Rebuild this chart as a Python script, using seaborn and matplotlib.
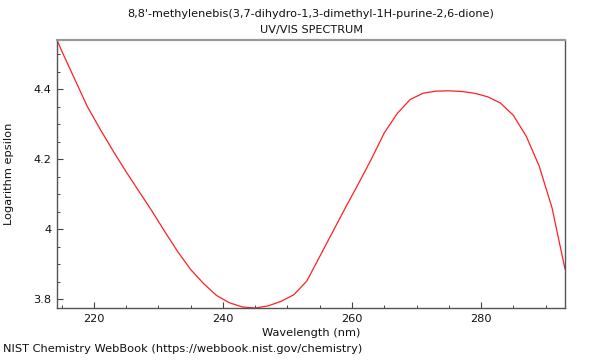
import numpy as np
import pandas as pd
import matplotlib
matplotlib.use('Agg')
import matplotlib.pyplot as plt
import seaborn as sns
from matplotlib.ticker import MultipleLocator, FormatStrFormatter

# --- data ---
wavelength = [214.3, 215, 217, 219, 221, 223, 225, 227, 229, 231, 233, 235, 237,
              239, 241, 243, 245, 247, 249, 251, 253, 255, 257, 259, 261, 263,
              265, 267, 269, 271, 273, 275, 277, 279, 281, 283, 285, 287, 289,
              291, 293]
log_eps = [4.54, 4.51, 4.43, 4.35, 4.285, 4.223, 4.164, 4.108, 4.052, 3.993,
           3.936, 3.885, 3.845, 3.811, 3.790, 3.778, 3.775, 3.781, 3.794, 3.813,
           3.852, 3.922, 3.992, 4.062, 4.130, 4.200, 4.275, 4.330, 4.370, 4.388,
           4.394, 4.395, 4.393, 4.388, 4.378, 4.360, 4.325, 4.265, 4.180, 4.060,
           3.886]

title_lines = ["8,8'-methylenebis(3,7-dihydro-1,3-dimethyl-1H-purine-2,6-dione)",
               "UV/VIS SPECTRUM"]
footer = "NIST Chemistry WebBook (https://webbook.nist.gov/chemistry)"

df = pd.DataFrame({'wavelength': wavelength, 'log_eps': log_eps})

sns.set_style('white')
plt.rcParams['font.family'] = ['DejaVu Sans']
plt.rcParams['text.color'] = '#111111'
plt.rcParams['axes.labelcolor'] = '#111111'
plt.rcParams['xtick.labelcolor'] = '#111111'
plt.rcParams['ytick.labelcolor'] = '#111111'

fig = plt.figure(figsize=(6, 3.6), dpi=100)
ax = fig.add_axes([0.095, 0.1444, 0.8467, 0.7445])

sns.lineplot(data=df, x='wavelength', y='log_eps', color='#ff2020', lw=0.9,
             ax=ax, estimator=None, sort=False)

ax.set_xlim(df['wavelength'].min(), df['wavelength'].max())
ax.set_ylim(df['log_eps'].min(), df['log_eps'].max())

ax.xaxis.set_major_locator(MultipleLocator(20))
ax.xaxis.set_minor_locator(MultipleLocator(5))
ax.yaxis.set_major_locator(MultipleLocator(0.2))
ax.yaxis.set_minor_locator(MultipleLocator(0.05))
ax.yaxis.set_major_formatter(FormatStrFormatter('%g'))

ax.tick_params(which='both', bottom=True, left=True, top=False, right=False)
ax.tick_params(which='major', direction='in', length=4, width=0.8,
               color='#444444', labelsize=8.2, pad=4)
ax.tick_params(which='minor', direction='in', length=2.5, width=0.7,
               color='#444444')

for s in ['left', 'bottom', 'right']:
    ax.spines[s].set_color('#555555')
    ax.spines[s].set_linewidth(1.0)
ax.spines['top'].set_color('#999999')
ax.spines['top'].set_linewidth(1.6)

ax.set_xlabel('Wavelength (nm)', fontsize=8.2, labelpad=3)
ax.set_ylabel('Logarithm epsilon', fontsize=8.2, labelpad=14)
ax.set_title('\n'.join(title_lines), fontsize=8.1, linespacing=1.75, pad=5)

fig.text(0.005, 0.018, footer, fontsize=8.2, ha='left', va='bottom')

fig.savefig('out.png', dpi=100)
